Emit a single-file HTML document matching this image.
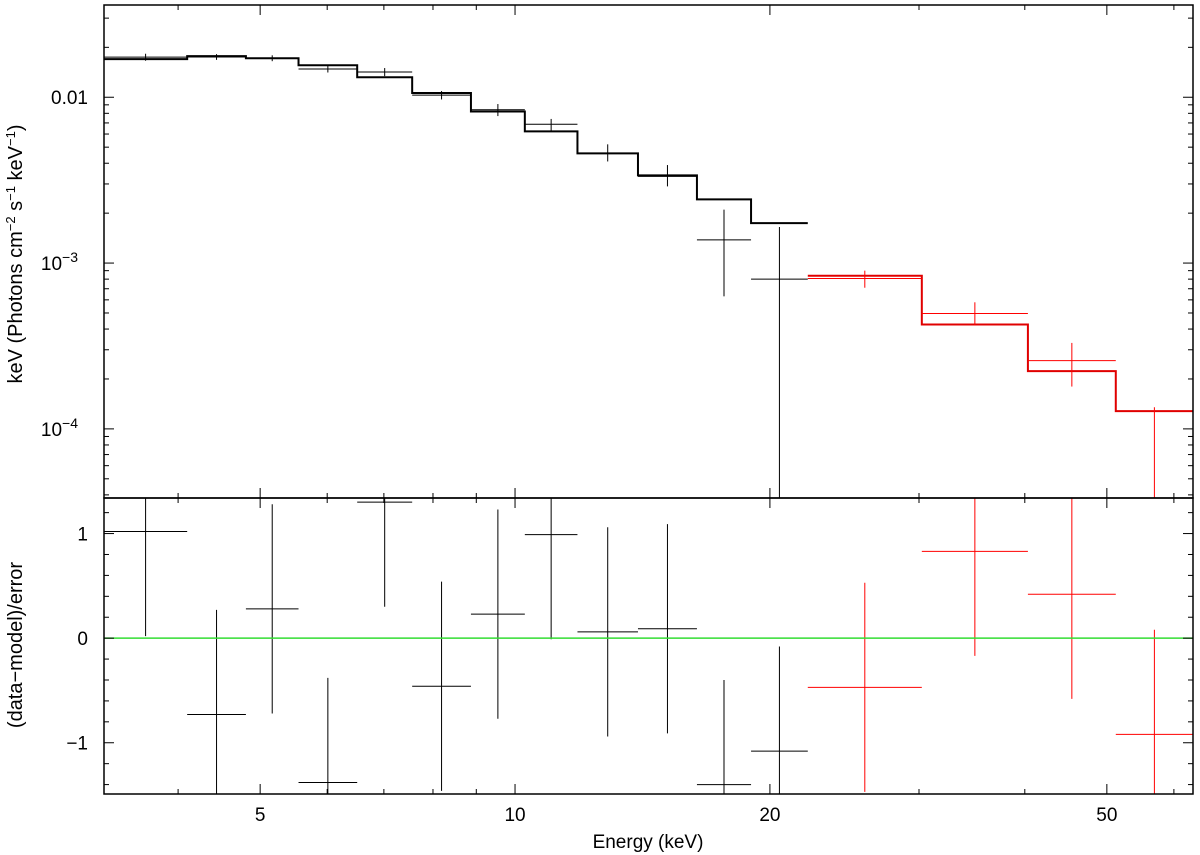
<!DOCTYPE html>
<html><head><meta charset="utf-8"><style>
body{margin:0;background:#fff}
svg{display:block;font-family:"Liberation Sans",sans-serif}
</style></head><body>
<svg id="chart" width="1200" height="855"></svg>
<script>
const binEdges=[3.27,4.10,4.81,5.55,6.51,7.56,8.87,10.27,11.85,13.97,16.40,19.00,22.17];
const redEdges=[22.17,30.23,40.34,51.23,63.2];
const blackModel=[0.01697,0.0177,0.0172,0.0156,0.0132,0.0106,0.0082,0.00623,0.00459,0.00338,0.00242,0.00174];
const blackData=[0.01745,0.0175,0.0172,0.0148,0.0142,0.0103,0.0084,0.00687,0.0046,0.00333,0.00138,0.00080];
const blackHi=[0.0183,0.0182,0.0179,0.0155,0.0150,0.0109,0.0091,0.0074,0.0052,0.0039,0.0021,0.00165];
const blackLo=[0.0166,0.0168,0.0165,0.0141,0.0134,0.0097,0.0077,0.0063,0.0041,0.0029,0.00063,0.00002];
const redModel=[0.000838,0.000426,0.000223,0.000128];
const redData=[0.000807,0.000496,0.000258,0.00003];
const redHi=[0.00090,0.00058,0.00033,0.000135];
const redLo=[0.00071,0.00042,0.00018,0.00001];
const blackResid=[1.02,-0.73,0.28,-1.38,1.3,-0.46,0.23,0.99,0.06,0.09,-1.4,-1.08];
const redResid=[-0.47,0.83,0.42,-0.92];
const xTicks=[5,10,20,50];
const xTickLabels=["5","10","20","50"];

const L=104,R=1193,T=5,M=498,B=794;
const xMin=3.27,xMax=63.2;
const X=e=>L+(Math.log10(e)-Math.log10(xMin))/(Math.log10(xMax)-Math.log10(xMin))*(R-L);
const yTopMin=3.83e-5,yTopMax=0.036;
const Y=v=>M-(Math.log10(v)-Math.log10(yTopMin))/(Math.log10(yTopMax)-Math.log10(yTopMin))*(M-T);
const rMin=-1.49,rMax=1.34;
const YR=v=>B-(v-rMin)/(rMax-rMin)*(B-M);
const svg=document.getElementById('chart');
const NS='http://www.w3.org/2000/svg';
function mk(tag,attrs,parent){const el=document.createElementNS(NS,tag);for(const k in attrs)el.setAttribute(k,attrs[k]);(parent||svg).appendChild(el);return el;}
function line(x1,y1,x2,y2,stroke,w,parent){return mk('line',{x1,y1,x2,y2,stroke,'stroke-width':w},parent);}
const defs=mk('defs',{});
const cp1=mk('clipPath',{id:'ctop'},defs);mk('rect',{x:L,y:T,width:R-L,height:M-T},cp1);
const cp2=mk('clipPath',{id:'cbot'},defs);mk('rect',{x:L,y:M,width:R-L,height:B-M},cp2);
const gTop=mk('g',{'clip-path':'url(#ctop)'});


const gBot=mk('g',{'clip-path':'url(#cbot)'});



function drawSeries(edges,model,data,hi,lo,resid,color,name){
  let d='';
  for(let i=0;i<model.length;i++){
    const x1=X(edges[i]),x2=X(edges[i+1]),y=Y(model[i]);
    d+=(i===0?'M':'L')+x1+','+y+'L'+x2+','+y;
  }
  const p=mk('path',{d,fill:'none',stroke:color==='#000'?'#000':'#e00000','stroke-width':2},gTop);
  
  
  for(let i=0;i<data.length;i++){
    const x1=X(edges[i]),x2=X(edges[i+1]),xc=X(Math.sqrt(edges[i]*edges[i+1]));
    const g=mk('g',{},gTop);
    
    
    line(x1,Y(data[i]),x2,Y(data[i]),color,1,g);
    line(xc,Y(hi[i]),xc,Y(lo[i]),color,1,g);
    const r=mk('g',{},gBot);
    
    
    line(x1,YR(resid[i]),x2,YR(resid[i]),color,1,r);
    line(xc,YR(resid[i]+1),xc,YR(resid[i]-1),color,1,r);
  }
}
drawSeries(binEdges,blackModel,blackData,blackHi,blackLo,blackResid,'#000','black');
drawSeries(redEdges,redModel,redData,redHi,redLo,redResid,'#f00','red');
const zl=line(L,YR(0),R,YR(0),'#33dd33',1.5);



const f1=mk('rect',{x:L,y:T,width:R-L,height:M-T,fill:'none',stroke:'#000','stroke-width':1.5});

const f2=mk('rect',{x:L,y:M,width:R-L,height:B-M,fill:'none',stroke:'#000','stroke-width':1.5});


for(let e=4;e<=60;e+=(e<10?1:10)){
  const x=X(e);const major=xTicks.includes(e);const len=major?10:5;
  [T,M,B].forEach((yy,k)=>{
    if(k!==0)line(x,yy,x,yy-len,'#000',1);
    if(k!==2)line(x,yy,x,yy+len,'#000',1);
  });
}
xTicks.forEach((e,i)=>{
  const t=mk('text',{x:X(e),y:821,'font-size':19,'text-anchor':'middle'});t.textContent=xTickLabels[i];
  
});
for(let dec=-5;dec<=-1;dec++){
  for(let m=1;m<10;m++){
    const v=m*Math.pow(10,dec);if(v<yTopMin||v>yTopMax)continue;
    const y=Y(v);const len=m===1?10:5;
    line(L,y,L+len,y,'#000',1);line(R,y,R-len,y,'#000',1);
  }
}
const ylabs=[[0.01,'0.01',''],[1e-3,'10','−3'],[1e-4,'10','−4']];
ylabs.forEach(([v,b,s])=>{
  const t=mk('text',{x:s?78:88,y:Y(v)+7,'font-size':19,'text-anchor':'end'});
  
  t.textContent=b;
  if(s){const ts=mk('tspan',{dy:-8,'font-size':14},t);ts.textContent=s;}
});
for(let v=-1.4;v<=1.31;v+=0.2){
  const vv=Math.round(v*10)/10;const y=YR(vv);const major=Math.abs(vv%1)<1e-9;const len=major?10:5;
  line(L,y,L+len,y,'#000',1);line(R,y,R-len,y,'#000',1);
}
[[1,'1'],[0,'0'],[-1,'−1']].forEach(([v,s])=>{
  const t=mk('text',{x:88,y:YR(v)+7,'font-size':19,'text-anchor':'end'});t.textContent=s;
  
});
let t=mk('text',{x:648,y:848,'font-size':19,'text-anchor':'middle'});t.textContent='Energy (keV)';

t=mk('text',{x:0,y:0,'font-size':20,'text-anchor':'middle',transform:'translate(22,254) rotate(-90)'});

t.innerHTML='keV (Photons cm<tspan dy="-7" font-size="13">−2</tspan><tspan dy="7"> s</tspan><tspan dy="-7" font-size="13">−1</tspan><tspan dy="7"> keV</tspan><tspan dy="-7" font-size="13">−1</tspan><tspan dy="7">)</tspan>';
t=mk('text',{x:0,y:0,'font-size':20,'text-anchor':'middle',transform:'translate(22,645) rotate(-90)'});t.textContent='(data−model)/error';

</script>
</body></html>
